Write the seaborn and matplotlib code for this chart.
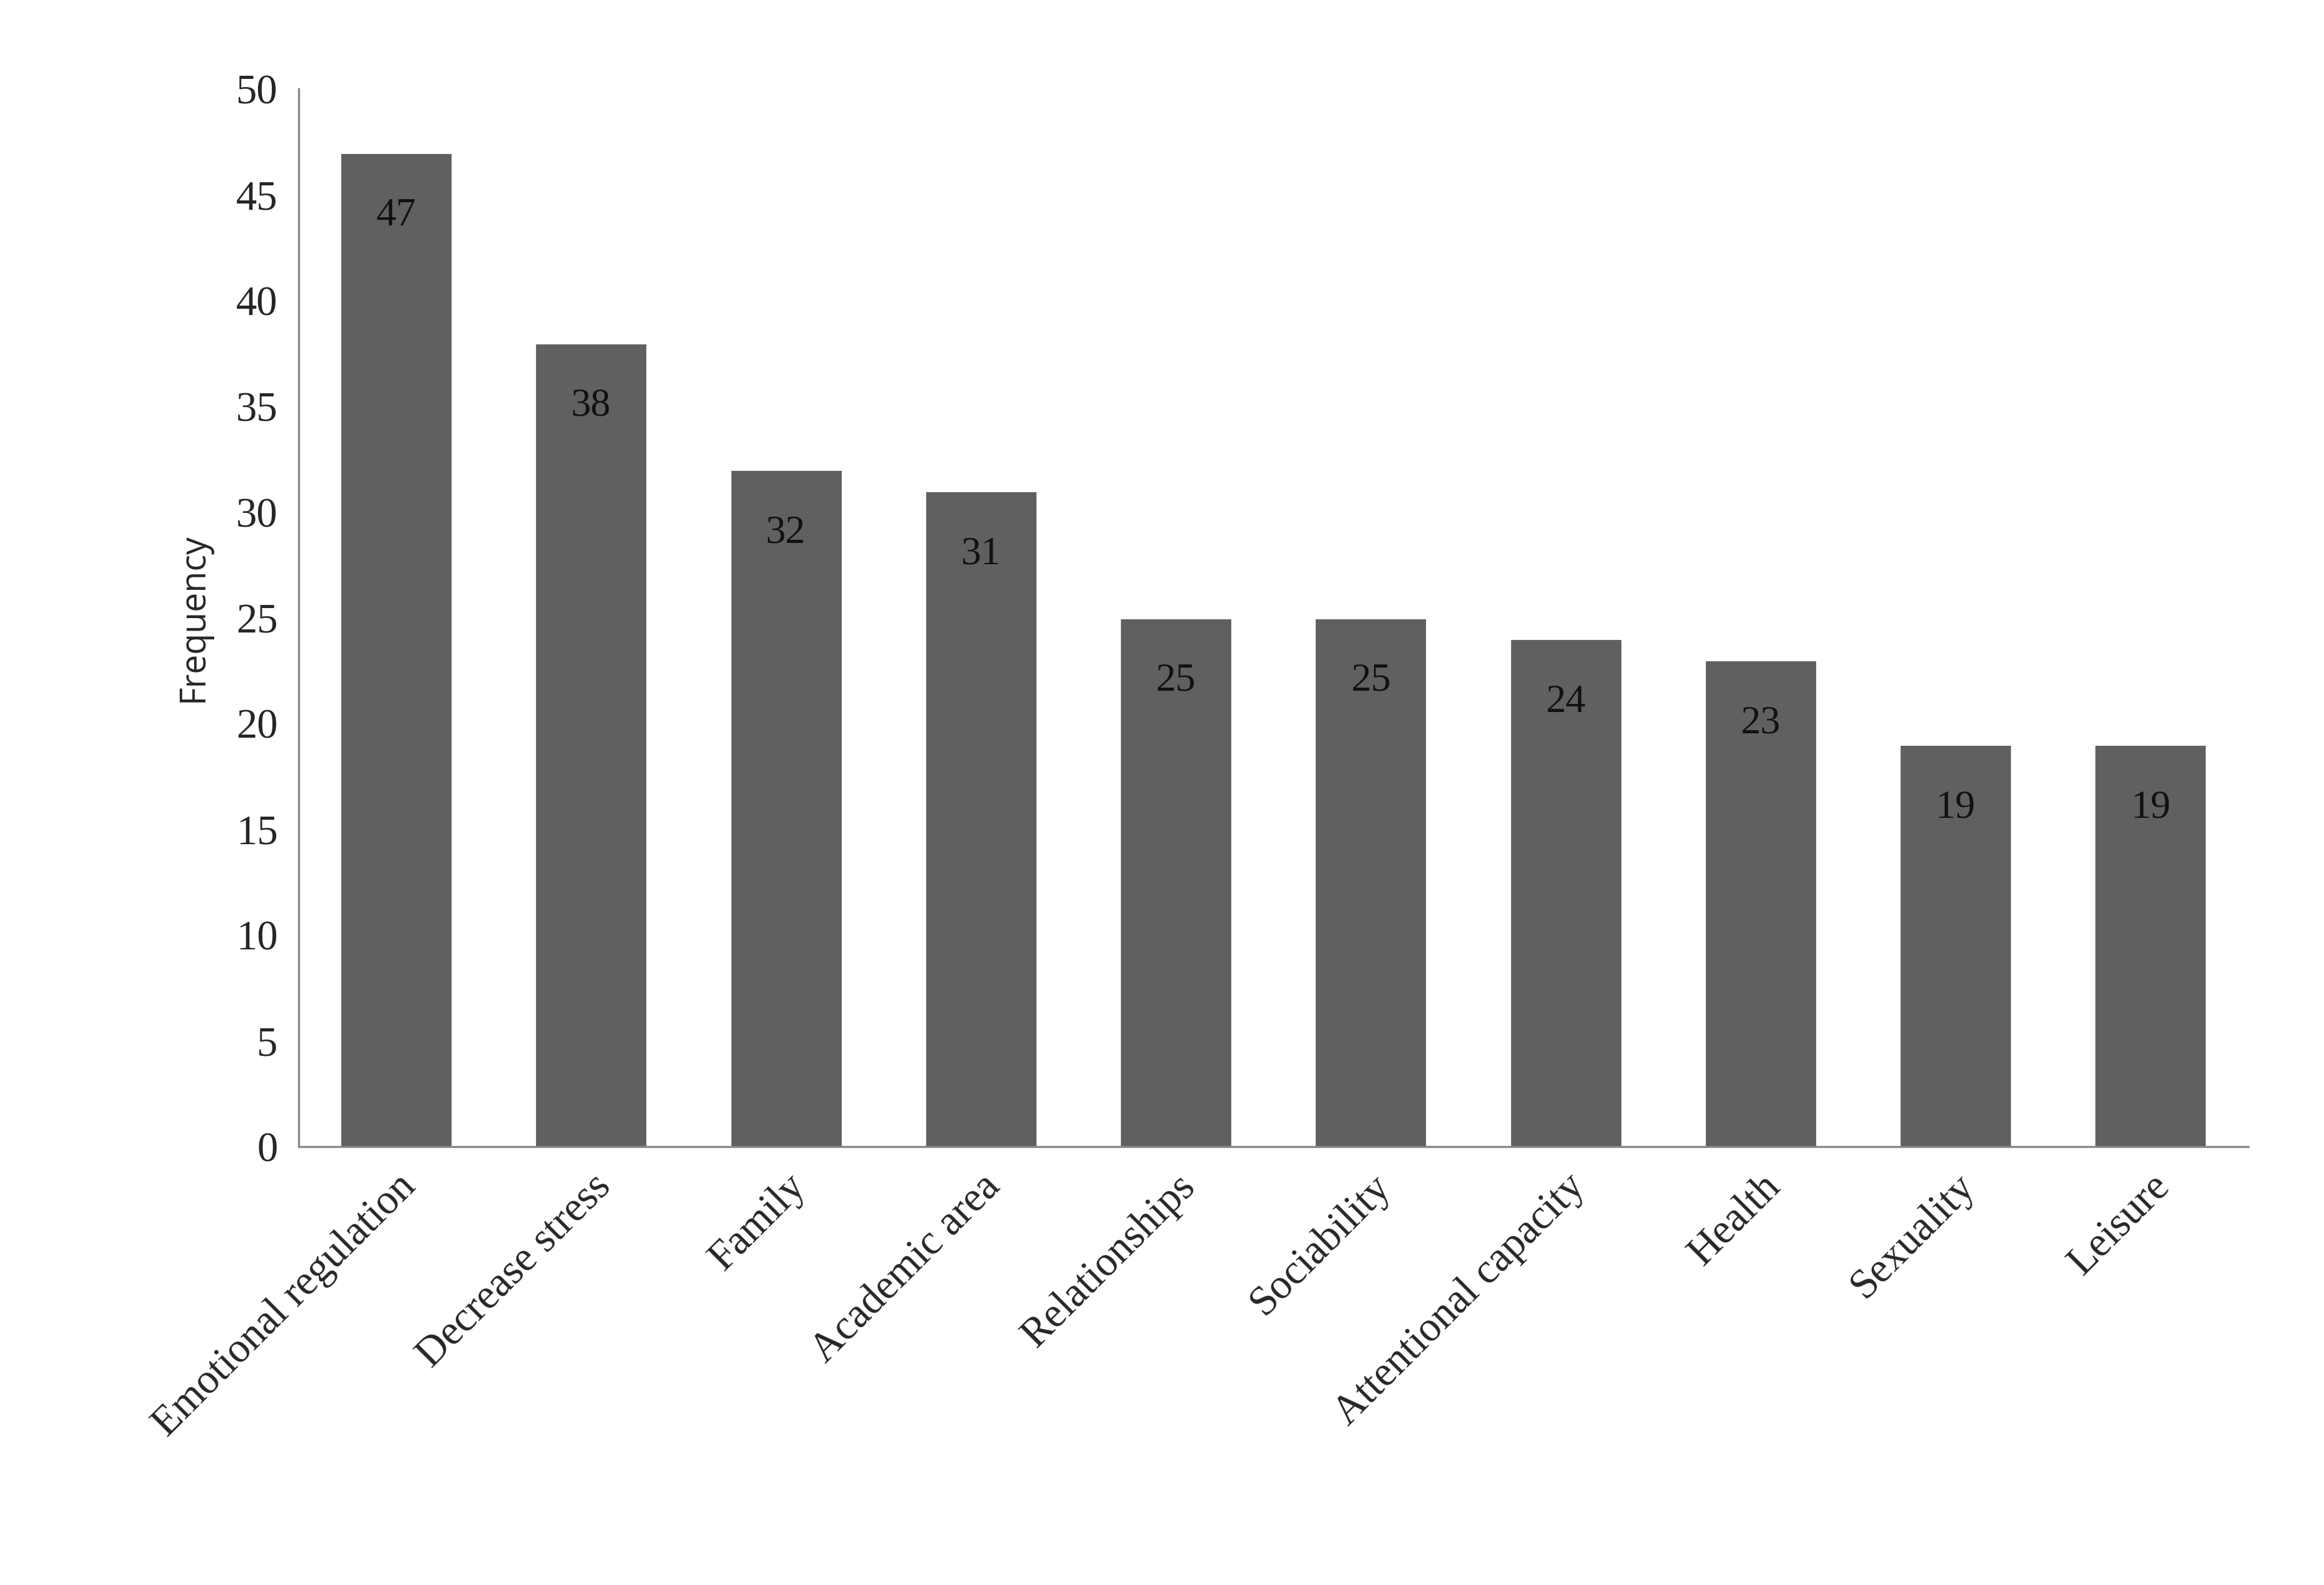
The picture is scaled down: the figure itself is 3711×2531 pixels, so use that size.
import matplotlib
matplotlib.use('Agg')
import matplotlib.pyplot as plt
import seaborn as sns
import pandas as pd

categories = ['Emotional regulation', 'Decrease stress', 'Family', 'Academic area',
              'Relationships', 'Sociability', 'Attentional capacity', 'Health',
              'Sexuality', 'Leisure']
values = [47, 38, 32, 31, 25, 25, 24, 23, 19, 19]
yticks = [0, 5, 10, 15, 20, 25, 30, 35, 40, 45, 50]

BAR_COL = '#606060'
SERIF = ['Liberation Serif', 'DejaVu Serif']

sns.set_theme(style='white')
fig = plt.figure(figsize=(18.56, 12.655), dpi=200)
ax = fig.add_axes([0.1285, 0.2767, 0.8385, 0.667])

df = pd.DataFrame({'cat': categories, 'val': values})
sns.barplot(data=df, x='cat', y='val', color=BAR_COL, saturation=1, width=0.575, ax=ax)

for i, v in enumerate(values):
    ax.text(i, v - 3, str(v), ha='center', va='center', fontsize=23, family=SERIF, color='#111111')

ax.set_ylim(0, 50)
ax.set_yticks(yticks)
ax.set_yticklabels([str(t) for t in yticks], fontsize=24, family=SERIF)
ax.set_xticks(range(len(categories)))
ax.set_xticklabels(categories, rotation=45, ha='right', rotation_mode='anchor',
                   fontsize=24, family=SERIF)
ax.tick_params(axis='both', length=0, pad=12)
ax.set_xlabel('')
ax.set_ylabel('Frequency', fontsize=20, family=['Open Sans', 'DejaVu Sans'], labelpad=14)
for s in ['top', 'right']:
    ax.spines[s].set_visible(False)
for s in ['left', 'bottom']:
    ax.spines[s].set_color('#888888')
    ax.spines[s].set_linewidth(1.2)

fig.savefig('out.png', dpi=200, facecolor='white')
